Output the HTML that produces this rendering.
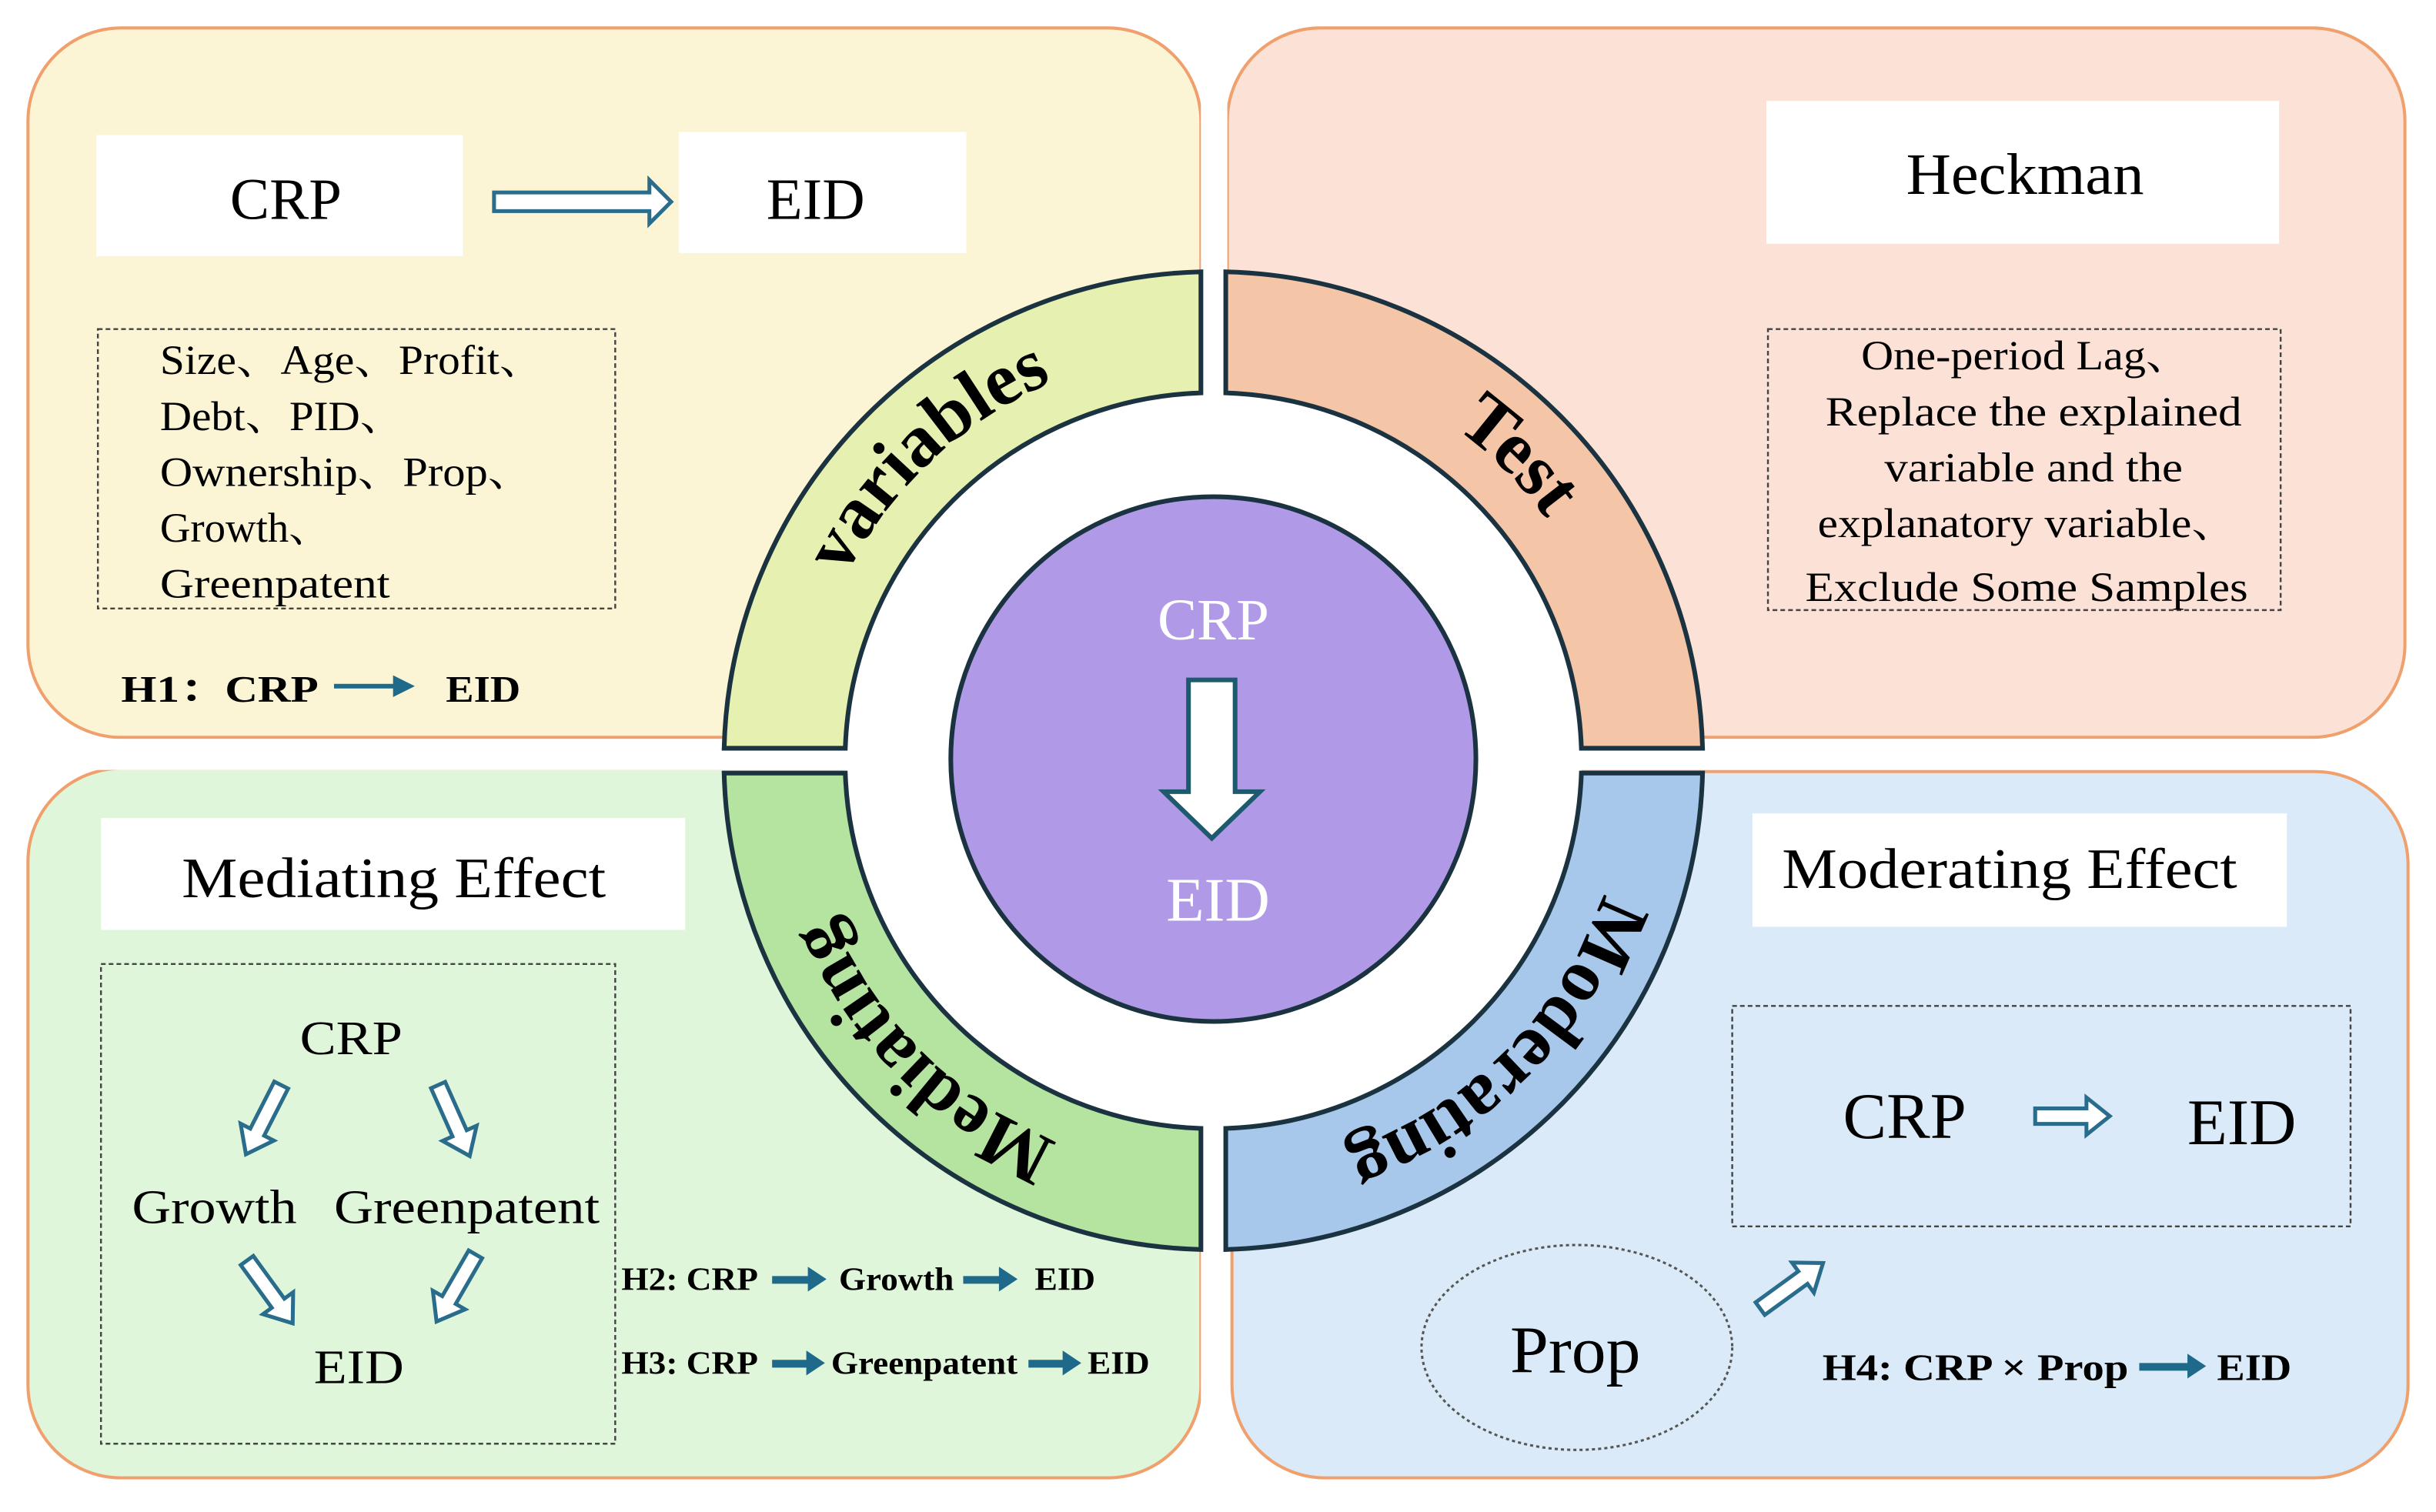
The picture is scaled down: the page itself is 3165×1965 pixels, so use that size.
<!DOCTYPE html>
<html><head><meta charset="utf-8"><style>
html,body{margin:0;padding:0;background:#fff;}
svg{display:block;}
text{font-family:"Liberation Serif","Noto Serif CJK SC",serif;}
</style></head><body>
<svg width="3165" height="1965" viewBox="0 0 1568 974" preserveAspectRatio="none" xmlns="http://www.w3.org/2000/svg">
<defs>
<path id="ha" d="M0,-5 H34 V-12 L50,0 L34,12 V5 H0 Z"/>
<path id="pTL" d="M516,490 A265,265 0 0 1 781,225"/>
<path id="pTR" d="M781,225 A265,265 0 0 1 1046,490"/>
<path id="pBR" d="M1046,490 A265,265 0 0 1 781,755"/>
<path id="pBL" d="M781,755 A265,265 0 0 1 516,490"/>
</defs>
<rect width="1568" height="974" fill="#fff"/>
<rect x="18" y="18" width="755" height="457" rx="60" fill="#FCF5D5" stroke="#F0A06C" stroke-width="2"/>
<rect x="790" y="18" width="758" height="457" rx="60" fill="#FCE2D6" stroke="#F0A06C" stroke-width="2"/>
<rect x="18" y="495" width="755" height="457" rx="60" fill="#E0F6DA" stroke="#F0A06C" stroke-width="2"/>
<rect x="793" y="497" width="757" height="455" rx="60" fill="#DAEAF8" stroke="#F0A06C" stroke-width="2"/>
<rect x="773" y="0" width="17" height="974" fill="#fff"/>
<rect x="0" y="476" width="1568" height="20" fill="#fff"/>
<circle cx="781" cy="490" r="237" fill="#fff"/>
<path d="M466.1,482 A315,315 0 0 1 773,175.1 L773,253.1 A237,237 0 0 0 544.1,482 Z" fill="#E6F0B0" stroke="#1B3340" stroke-width="3"/>
<path d="M789,175.1 A315,315 0 0 1 1095.9,482 L1017.9,482 A237,237 0 0 0 789,253.1 Z" fill="#F5C5A8" stroke="#1B3340" stroke-width="3"/>
<path d="M1095.9,498 A315,315 0 0 1 789,804.9 L789,726.9 A237,237 0 0 0 1017.9,498 Z" fill="#A7C8EB" stroke="#1B3340" stroke-width="3"/>
<path d="M773,804.9 A315,315 0 0 1 466.1,498 L544.1,498 A237,237 0 0 0 773,726.9 Z" fill="#B5E3A0" stroke="#1B3340" stroke-width="3"/>
<g font-weight="bold" font-size="48" fill="#000">
<text><textPath href="#pTL" startOffset="52%" text-anchor="middle">variables</textPath></text>
<text><textPath href="#pTR" startOffset="50%" text-anchor="middle">Test</textPath></text>
<text><textPath href="#pBR" startOffset="50%" text-anchor="middle">Moderating</textPath></text>
<text><textPath href="#pBL" startOffset="50%" text-anchor="middle">Mediating</textPath></text>
</g>
<circle cx="781" cy="489" r="169" fill="#B09AE8" stroke="#1B3340" stroke-width="3"/>
<text x="781" y="412" font-size="38" fill="#fff" text-anchor="middle">CRP</text>
<path d="M765,438 H795 V510 H811 L780,540 L749,510 H765 Z" fill="#fff" stroke="#1E5A6E" stroke-width="3"/>
<text x="784" y="593" font-size="40" fill="#fff" text-anchor="middle">EID</text>

<rect x="62" y="87" width="236" height="78" fill="#fff"/>
<text x="184" y="141" font-size="38" text-anchor="middle">CRP</text>
<rect x="437" y="85" width="185" height="78" fill="#fff"/>
<text x="525" y="141" font-size="38" text-anchor="middle">EID</text>
<path d="M318,124 H418 V116 L432,130 L418,144 V136 H318 Z" fill="#fff" stroke="#2A6C8C" stroke-width="2.5"/>
<rect x="63" y="212" width="333" height="180" fill="none" stroke="#444" stroke-width="1.2" stroke-dasharray="3,2"/>
<g font-size="27">
<text x="103" y="241" textLength="247" lengthAdjust="spacingAndGlyphs">Size、Age、Profit、</text>
<text x="103" y="277" textLength="157" lengthAdjust="spacingAndGlyphs">Debt、PID、</text>
<text x="103" y="313" textLength="240" lengthAdjust="spacingAndGlyphs">Ownership、Prop、</text>
<text x="103" y="349" textLength="110" lengthAdjust="spacingAndGlyphs">Growth、</text>
<text x="103" y="385" textLength="148" lengthAdjust="spacingAndGlyphs">Greenpatent</text>
</g>
<g font-weight="bold" font-size="24">
<text x="78" y="452" textLength="127" lengthAdjust="spacingAndGlyphs">H1：CRP</text>
<text x="287" y="452" textLength="48" lengthAdjust="spacingAndGlyphs">EID</text>
</g>
<line x1="215" y1="442" x2="255" y2="442" stroke="#1F6A8A" stroke-width="3"/>
<path d="M253,435 L267,442 L253,449 Z" fill="#1F6A8A"/>

<rect x="1137" y="65" width="330" height="92" fill="#fff"/>
<text x="1227" y="125" font-size="38" textLength="153" lengthAdjust="spacingAndGlyphs">Heckman</text>
<rect x="1138" y="212" width="330" height="181" fill="none" stroke="#444" stroke-width="1.2" stroke-dasharray="3,2"/>
<g font-size="27">
<text x="1198" y="238" textLength="212" lengthAdjust="spacingAndGlyphs">One-period Lag、</text>
<text x="1175" y="274" textLength="268" lengthAdjust="spacingAndGlyphs">Replace the explained</text>
<text x="1213" y="310" textLength="192" lengthAdjust="spacingAndGlyphs">variable and the</text>
<text x="1170" y="346" textLength="270" lengthAdjust="spacingAndGlyphs">explanatory variable、</text>
<text x="1162" y="387" textLength="285" lengthAdjust="spacingAndGlyphs">Exclude Some Samples</text>
</g>

<rect x="65" y="527" width="376" height="72" fill="#fff"/>
<text x="117" y="578" font-size="37" textLength="273" lengthAdjust="spacingAndGlyphs">Mediating Effect</text>
<rect x="65" y="621" width="331" height="309" fill="none" stroke="#444" stroke-width="1.2" stroke-dasharray="3,2"/>
<g font-size="31">
<text x="193" y="679" textLength="66" lengthAdjust="spacingAndGlyphs">CRP</text>
<text x="85" y="788" textLength="106" lengthAdjust="spacingAndGlyphs">Growth</text>
<text x="215" y="788" textLength="171" lengthAdjust="spacingAndGlyphs">Greenpatent</text>
<text x="202" y="891" textLength="58" lengthAdjust="spacingAndGlyphs">EID</text>
</g>
<g fill="#fff" stroke="#2A6C8C" stroke-width="2.5">
<use href="#ha" transform="translate(181,699) rotate(117)"/>
<use href="#ha" transform="translate(282,699) rotate(66)"/>
<use href="#ha" transform="translate(159,812) rotate(54)"/>
<use href="#ha" transform="translate(306,808) rotate(120)"/>
</g>
<g font-weight="bold" font-size="21">
<text x="400" y="831" textLength="88" lengthAdjust="spacingAndGlyphs">H2: CRP</text>
<text x="540" y="831" textLength="74" lengthAdjust="spacingAndGlyphs">Growth</text>
<text x="666" y="831" textLength="39" lengthAdjust="spacingAndGlyphs">EID</text>
<text x="400" y="885" textLength="88" lengthAdjust="spacingAndGlyphs">H3: CRP</text>
<text x="535" y="885" textLength="120" lengthAdjust="spacingAndGlyphs">Greenpatent</text>
<text x="700" y="885" textLength="40" lengthAdjust="spacingAndGlyphs">EID</text>
</g>
<g fill="#1F6A8A">
<path d="M497,822 H520 V816 L532,824 L520,832 V827 H497 Z"/>
<path d="M620,822 H643 V816 L655,824 L643,832 V827 H620 Z"/>
<path d="M497,876 H519 V870 L531,878 L519,886 V881 H497 Z"/>
<path d="M662,876 H684 V870 L696,878 L684,886 V881 H662 Z"/>
</g>

<rect x="1128" y="524" width="344" height="73" fill="#fff"/>
<text x="1147" y="572" font-size="37" textLength="293" lengthAdjust="spacingAndGlyphs">Moderating Effect</text>
<rect x="1115" y="648" width="398" height="142" fill="none" stroke="#444" stroke-width="1.2" stroke-dasharray="3,2"/>
<text x="1226" y="733" font-size="42" text-anchor="middle">CRP</text>
<text x="1443" y="737" font-size="42" text-anchor="middle">EID</text>
<path d="M1310,714 H1343 V707 L1358,719 L1343,731 V724 H1310 Z" fill="#fff" stroke="#2A6C8C" stroke-width="2.5"/>
<ellipse cx="1015" cy="868" rx="100" ry="66" fill="none" stroke="#555" stroke-width="1.5" stroke-dasharray="2,2"/>
<text x="972" y="884" font-size="43" textLength="84" lengthAdjust="spacingAndGlyphs">Prop</text>
<use href="#ha" transform="translate(1133,843) rotate(-36)" fill="#fff" stroke="#2A6C8C" stroke-width="2.5"/>
<g font-weight="bold" font-size="24">
<text x="1173" y="889" textLength="197" lengthAdjust="spacingAndGlyphs">H4: CRP × Prop</text>
<text x="1427" y="889" textLength="48" lengthAdjust="spacingAndGlyphs">EID</text>
</g>
<path d="M1377,878 H1408 V872 L1420,880 L1408,888 V883 H1377 Z" fill="#1F6A8A"/>
</svg>
</body></html>
